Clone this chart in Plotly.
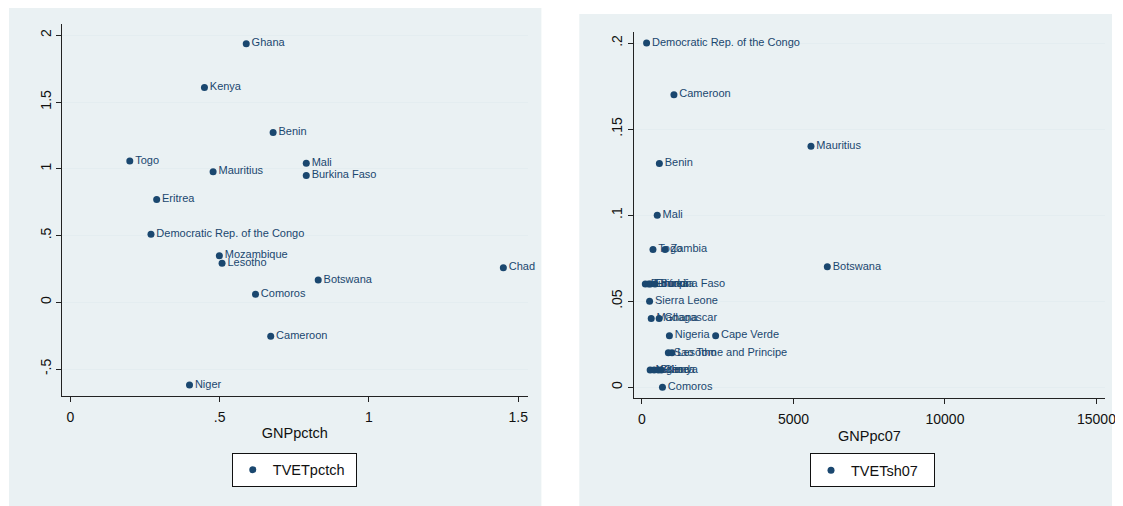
import plotly.graph_objects as go

# ---------------- data ----------------
left_countries = ["Ghana", "Kenya", "Benin", "Togo", "Mauritius", "Mali", "Burkina Faso",
                  "Eritrea", "Democratic Rep. of the Congo", "Mozambique", "Lesotho", "Chad",
                  "Botswana", "Comoros", "Cameroon", "Niger"]
left_gnppctch = [0.589, 0.449, 0.679, 0.199, 0.478, 0.790, 0.790, 0.289, 0.270, 0.499,
                 0.508, 1.450, 0.830, 0.620, 0.671, 0.399]
left_tvetpctch = [1.937, 1.608, 1.271, 1.058, 0.978, 1.041, 0.949, 0.769, 0.509, 0.349,
                  0.292, 0.259, 0.167, 0.060, -0.255, -0.619]

right_countries = ["Democratic Rep. of the Congo", "Cameroon", "Mauritius", "Benin", "Mali",
                   "Togo", "Zambia", "Botswana", "Burundi", "Ethiopia", "Eritrea",
                   "Burkina Faso", "Sierra Leone", "Madagascar", "Ghana", "Nigeria",
                   "Cape Verde", "Sao Tome and Principe", "Lesotho", "Niger", "Guinea",
                   "Chad", "Kenya", "Comoros"]
right_gnppc07 = [152, 1055, 5578, 574, 504, 363, 762, 6117, 110, 220, 280, 430, 251, 305,
                 567, 905, 2431, 870, 990, 270, 400, 540, 640, 676]
right_tvetsh07 = [0.20, 0.17, 0.14, 0.13, 0.10, 0.08, 0.08, 0.07, 0.06, 0.06, 0.06, 0.06,
                  0.05, 0.04, 0.04, 0.03, 0.03, 0.02, 0.02, 0.01, 0.01, 0.01, 0.01, 0.00]

left_xticks = [0, 0.5, 1, 1.5]
left_xtext = ["0", ".5", "1", "1.5"]
left_yticks = [-0.5, 0, 0.5, 1, 1.5, 2]
left_ytext = ["-.5", "0", ".5", "1", "1.5", "2"]
right_xticks = [0, 5000, 10000, 15000]
right_xtext = ["0", "5000", "10000", "15000"]
right_yticks = [0, 0.05, 0.1, 0.15, 0.2]
right_ytext = ["0", ".05", ".1", ".15", ".2"]

# ---------------- style ----------------
OFF = 8                      # default page (body) margin of the html page
W, H = 1123 - OFF, 506 - OFF
NAVY = "#1a476f"
PANEL = "#eaf1f3"
GRID = "#e4edf0"
FONT = "Liberation Sans, Arial, sans-serif"
LABEL_SIZE = 11
TICK_SIZE = 14
TITLE_SIZE = 14.5


def px(x):
    return (x - OFF) / W


def py(y):
    return 1 - (y - OFF) / H


fig = go.Figure()

fig.add_trace(go.Scatter(
    x=left_gnppctch, y=left_tvetpctch, text=left_countries,
    mode="markers+text", textposition="middle right",
    marker=dict(color=NAVY, size=7),
    textfont=dict(family=FONT, size=LABEL_SIZE, color=NAVY),
    name="TVETpctch", xaxis="x", yaxis="y", legend="legend",
    cliponaxis=False,
))
fig.add_trace(go.Scatter(
    x=right_gnppc07, y=right_tvetsh07, text=right_countries,
    mode="markers+text", textposition="middle right",
    marker=dict(color=NAVY, size=7),
    textfont=dict(family=FONT, size=LABEL_SIZE, color=NAVY),
    name="TVETsh07", xaxis="x2", yaxis="y2", legend="legend2",
    cliponaxis=False,
))

axis_common = dict(
    showline=True, linecolor="#222", linewidth=1,
    ticks="outside", ticklen=5, tickcolor="#222", tickwidth=1,
    tickfont=dict(family=FONT, size=TICK_SIZE, color="#111"),
    zeroline=False, tickmode="array", ticklabeloverflow="allow",
)
title_font = dict(family=FONT, size=TITLE_SIZE, color="#111")
legend_common = dict(
    xanchor="left", yanchor="top", orientation="h", bgcolor="white",
    bordercolor="#111", borderwidth=1,
    font=dict(family=FONT, size=TITLE_SIZE, color="#111"),
    itemwidth=30, entrywidth=78,
)

fig.update_layout(
    width=W, height=H,
    margin=dict(l=0, r=0, t=0, b=0),
    paper_bgcolor="white", plot_bgcolor="white",
    font=dict(family=FONT),
    showlegend=True,
    xaxis=dict(axis_common, domain=[px(62.7), px(532.7)], range=[-0.0275, 1.531],
               tickvals=left_xticks, ticktext=left_xtext, showgrid=False,
               anchor="y", ticklabelstandoff=3,
               title=dict(text="GNPpctch", font=title_font, standoff=4)),
    yaxis=dict(axis_common, domain=[py(396), py(24.3)], range=[-0.702, 2.082],
               tickvals=left_yticks, ticktext=left_ytext, tickangle=-90,
               showgrid=True, gridcolor=GRID, gridwidth=1, anchor="x"),
    xaxis2=dict(axis_common, domain=[px(640), px(1116)], range=[-271, 15284],
                tickvals=right_xticks, ticktext=right_xtext, showgrid=False,
                anchor="y2", ticklabelstandoff=3,
                title=dict(text="GNPpc07", font=title_font, standoff=4)),
    yaxis2=dict(axis_common, domain=[py(398.3), py(32)], range=[-0.0064, 0.2064],
                tickvals=right_yticks, ticktext=right_ytext, tickangle=-90,
                showgrid=True, gridcolor=GRID, gridwidth=1, anchor="x2"),
    legend=dict(legend_common, x=px(234), y=py(452.7)),
    legend2=dict(legend_common, x=px(818), y=py(453.3)),
    shapes=[
        dict(type="rect", xref="paper", yref="paper", x0=px(9), x1=px(546.7),
             y0=py(506), y1=py(6), fillcolor=PANEL, line=dict(width=0), layer="below"),
        dict(type="rect", xref="paper", yref="paper", x0=px(585), x1=px(1123),
             y0=py(506), y1=py(14), fillcolor=PANEL, line=dict(width=0), layer="below"),
    ],
)

fig.write_html("out.html")
